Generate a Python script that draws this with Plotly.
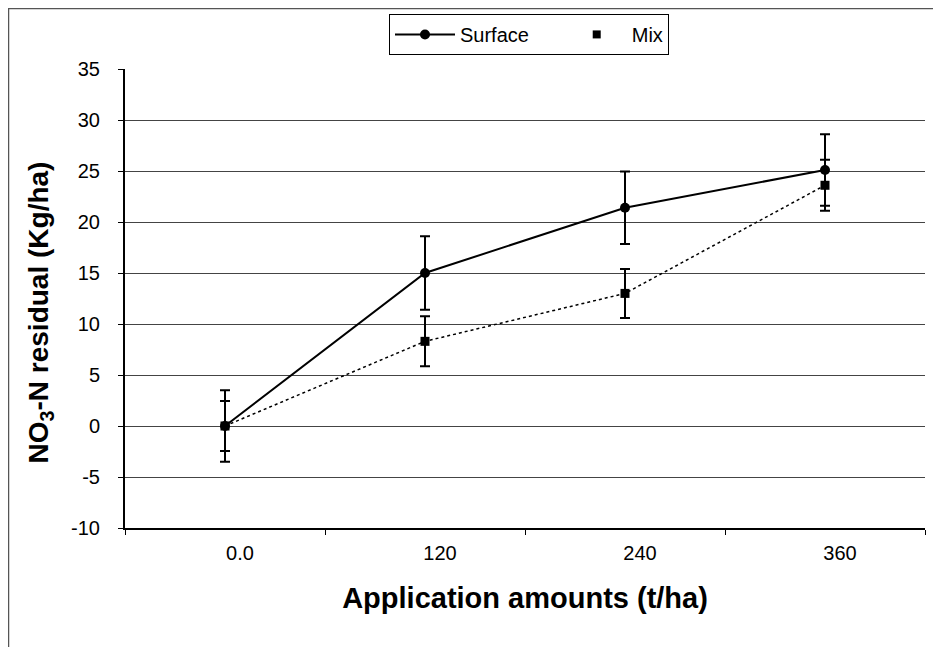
import plotly.graph_objects as go

categories = ["0.0", "120", "240", "360"]
surface = [0.0, 15.0, 21.4, 25.1]
surface_err = [3.5, 3.6, 3.55, 3.5]
mix = [0.0, 8.3, 13.0, 23.6]
mix_err = [2.45, 2.45, 2.4, 2.5]
y_ticks = [-10, -5, 0, 5, 10, 15, 20, 25, 30, 35]
y_tick_labels = ["-10", "-5", "0", "5", "10", "15", "20", "25", "30", "35"]

NBSP = "\u00a0"
EMSP = "\u2003"

fig = go.Figure()

fig.add_trace(go.Scatter(
    x=categories, y=mix, name="Mix", mode="lines+markers",
    line=dict(color="black", width=1.5, dash="dot"),
    marker=dict(symbol="square", size=9, color="black"),
    error_y=dict(type="data", array=mix_err, visible=True, color="black", thickness=2, width=5),
    showlegend=False,
))
fig.add_trace(go.Scatter(
    x=categories, y=surface, name="Surface" + NBSP * 5, mode="lines+markers",
    line=dict(color="black", width=2),
    marker=dict(symbol="circle", size=10, color="black"),
    error_y=dict(type="data", array=surface_err, visible=True, color="black", thickness=2, width=5),
))
fig.add_trace(go.Scatter(
    x=[None], y=[None], name="Mix", mode="markers",
    marker=dict(symbol="square", size=8, color="black"),
))

# leading non-breaking spaces only widen the label box (labels are right-aligned)
y_tick_text = [(NBSP * 2 + t) if t == "-10" else t for t in y_tick_labels]

# Page body adds an 8px offset; the figure is sized to compensate.
fig.update_layout(
    width=933, height=639,
    margin=dict(l=117, r=16, t=61, b=119, autoexpand=False),
    paper_bgcolor="white", plot_bgcolor="white",
    font=dict(family="Liberation Sans, Arial, sans-serif", color="black"),
    legend=dict(
        orientation="h", x=0.505, xanchor="center", y=1.12, yanchor="top",
        bordercolor="black", borderwidth=1, bgcolor="white",
        font=dict(size=20), itemwidth=60,
        traceorder="normal",
    ),
    xaxis=dict(
        type="category", range=[-0.5, 3.5], tickson="boundaries",
        ticks="outside", ticklen=5, tickcolor="black", tickwidth=1,
        showline=True, linecolor="black", linewidth=2,
        showgrid=False, ticklabelshift=15, ticklabelstandoff=6,
        tickfont=dict(family="Liberation Sans Narrow, Liberation Sans, sans-serif", size=20),
        title=dict(text="<b>Application amounts (t/ha)</b>", font=dict(size=29), standoff=25),
    ),
    yaxis=dict(
        range=[-10, 35], tickvals=y_ticks, ticktext=y_tick_text,
        ticks="outside", ticklen=5, ticklabelstandoff=14,
        tickcolor="black", showline=True, linecolor="black", linewidth=2,
        showgrid=True, gridcolor="#444444", gridwidth=1, zeroline=False,
        tickfont=dict(size=20),
        title=dict(text="<b>NO<sub>3</sub>-N residual (Kg/ha)" + EMSP + "</b>",
                   font=dict(size=28), standoff=3),
    ),
    shapes=[dict(type="rect", xref="paper", yref="paper",
                 x0=-116.5 / 800, x1=813 / 800, y0=-124 / 459, y1=(459 + 60.5) / 459,
                 line=dict(color="#555555", width=1.5))],
)

fig.write_html("out.html")
